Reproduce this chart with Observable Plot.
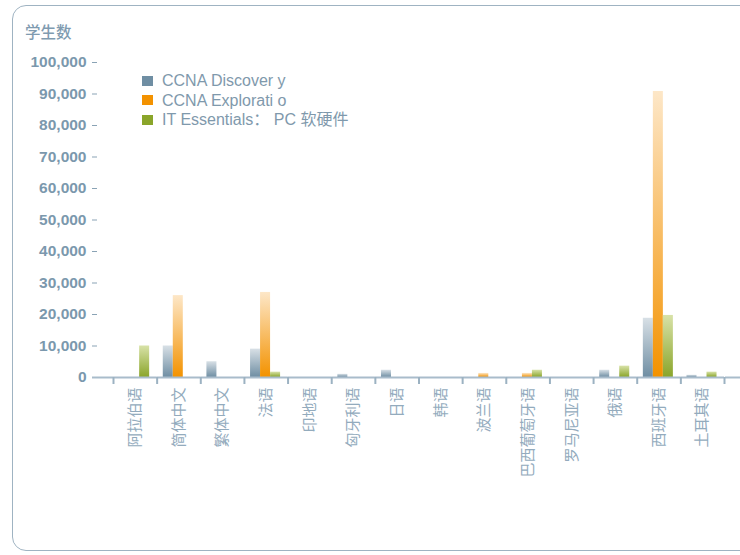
<!DOCTYPE html>
<html>
<head>
<meta charset="utf-8">
<script src="https://cdn.jsdelivr.net/npm/d3@7"></script>
<script src="https://cdn.jsdelivr.net/npm/@observablehq/plot@0.6"></script>
<style>
  html, body { margin: 0; padding: 0; background: #fff; }
  #wrap { position: relative; width: 740px; height: 555px; overflow: hidden; font-family: "Liberation Sans", Arial, sans-serif; }
  #frame { position: absolute; left: 12px; top: 5px; width: 780px; height: 546px; border: 1.5px solid #9fb3c2; border-radius: 14px; box-sizing: border-box; }
  #ylabel { position: absolute; left: 25px; top: 20px; font-family: "Noto Sans CJK SC", sans-serif; font-size: 15.5px; font-weight: 500; color: #7f9bb0; }
  #legend { position: absolute; left: 142px; top: 71px; font-family: "Liberation Sans", "Noto Sans CJK SC", sans-serif; font-size: 16px; color: #7f99ac; }
  .row { height: 19.5px; line-height: 19.5px; display: flex; align-items: center; white-space: pre; }
  .sw { width: 11px; height: 10px; margin-right: 9px; }
  #chart { position: absolute; left: 0; top: 0; }
</style>
</head>
<body>
<div id="wrap">
  <div id="frame"></div>
  <div id="chart"></div>
  <div id="ylabel">学生数</div>
  <div id="legend"></div>
</div>
<script>
const languages = ["阿拉伯语","简体中文","繁体中文","法语","印地语","匈牙利语","日语","韩语","波兰语","巴西葡萄牙语","罗马尼亚语","俄语","西班牙语","土耳其语"];
const seriesNames = ["CCNA Discover y","CCNA Explorati o","IT Essentials： PC 软硬件"];
const discovery   = [0, 10000, 5000, 9000, 0, 1000, 2300, 0, 0, 0, 0, 2300, 18800, 700];
const exploration = [0, 26000, 0, 27000, 0, 0, 0, 0, 1300, 1300, 0, 0, 90800, 0];
const essentials  = [10000, 0, 0, 1700, 0, 0, 0, 0, 0, 2300, 0, 3600, 19700, 1700];
const yTicks = [0,10000,20000,30000,40000,50000,60000,70000,80000,90000,100000];
const swatch = ["#6f8ea3","#f39200","#8aa52a"];
const topColor = ["#d8e0e6","#fde7c8","#d8e2a8"];

const seriesValues = [discovery, exploration, essentials];
const data = [];
languages.forEach((lang, i) => {
  seriesNames.forEach((s, j) => {
    data.push({lang, series: s, value: seriesValues[j][i]});
  });
});

const gradIds = seriesNames.map((_, j) => "grad" + j);

function defs() {
  const d = d3.create("svg:defs");
  gradIds.forEach((id, j) => {
    const g = d.append("linearGradient").attr("id", id).attr("x1", 0).attr("y1", 0).attr("x2", 0).attr("y2", 1);
    g.append("stop").attr("offset", "0%").attr("stop-color", topColor[j]);
    g.append("stop").attr("offset", "100%").attr("stop-color", swatch[j]);
  });
  return d.node();
}

const W = 740, mL = 113, mR = 16;
const step = (W - mL - mR) / languages.length;
const axisColor = "#9cb2c2";
const baseColor = "#a9bccb";

const chart = Plot.plot({
  width: W,
  height: 477,
  marginTop: 62,
  marginBottom: 100,
  marginLeft: mL,
  marginRight: mR,
  style: {fontFamily: "Liberation Sans, Arial, sans-serif", background: "transparent", overflow: "visible"},
  fx: {domain: languages, padding: 0, round: false, axis: null, label: null},
  x: {domain: seriesNames, paddingInner: 0, paddingOuter: 0.68, align: 0.45, round: false, axis: null},
  y: {domain: [0, 100000], axis: null},
  color: {domain: seriesNames, range: gradIds.map(id => `url(#${id})`)},
  marks: [
    defs,
    Plot.barY(data, {fx: "lang", x: "series", y: "value", fill: "series"}),
    Plot.ruleY([0], {stroke: baseColor, strokeWidth: 2}),
    Plot.axisY({ticks: [0], tickSize: -21, dx: -21, stroke: baseColor, strokeWidth: 2, fill: "none", label: null}),
    Plot.axisY({anchor: "right", ticks: [0], tickSize: mR, stroke: baseColor, strokeWidth: 2, fill: "none", label: null}),
    Plot.axisY({ticks: yTicks.filter(d => d > 0), tickFormat: d3.format(","), tickSize: -5, tickPadding: 11, dx: -21,
      stroke: "#8aa3b5", fill: "#7b98ad", fontSize: 15.5, fontWeight: "bold", label: null,
      style: {letterSpacing: "0.3px"}}),
    Plot.axisY({ticks: [0], tickFormat: d3.format(","), tickSize: -5, tickPadding: 11, dx: -21,
      stroke: "none", fill: "#7b98ad", fontSize: 15.5, fontWeight: "bold", label: null}),
    Plot.axisFx({anchor: "bottom", tickSize: 7, stroke: axisColor, strokeWidth: 2, fill: "none", dx: -step / 2, label: null}),
    Plot.axisFx({anchor: "bottom", ticks: [languages[languages.length - 1]], tickSize: 7, stroke: axisColor, strokeWidth: 2, fill: "none", dx: step / 2, label: null}),
    Plot.axisFx({anchor: "bottom", tickSize: 0, tickPadding: 10, tickRotate: -90, fill: "#93abbd", fontSize: 15,
      fontFamily: "Noto Sans CJK SC, sans-serif", label: null, style: {letterSpacing: "1px"}})
  ]
});
document.getElementById("chart").appendChild(chart);

const legend = document.getElementById("legend");
seriesNames.forEach((s, j) => {
  const row = document.createElement("div");
  row.className = "row";
  const sw = document.createElement("div");
  sw.className = "sw";
  sw.style.background = swatch[j];
  const t = document.createElement("span");
  t.textContent = s;
  row.appendChild(sw);
  row.appendChild(t);
  legend.appendChild(row);
});
</script>
</body>
</html>
